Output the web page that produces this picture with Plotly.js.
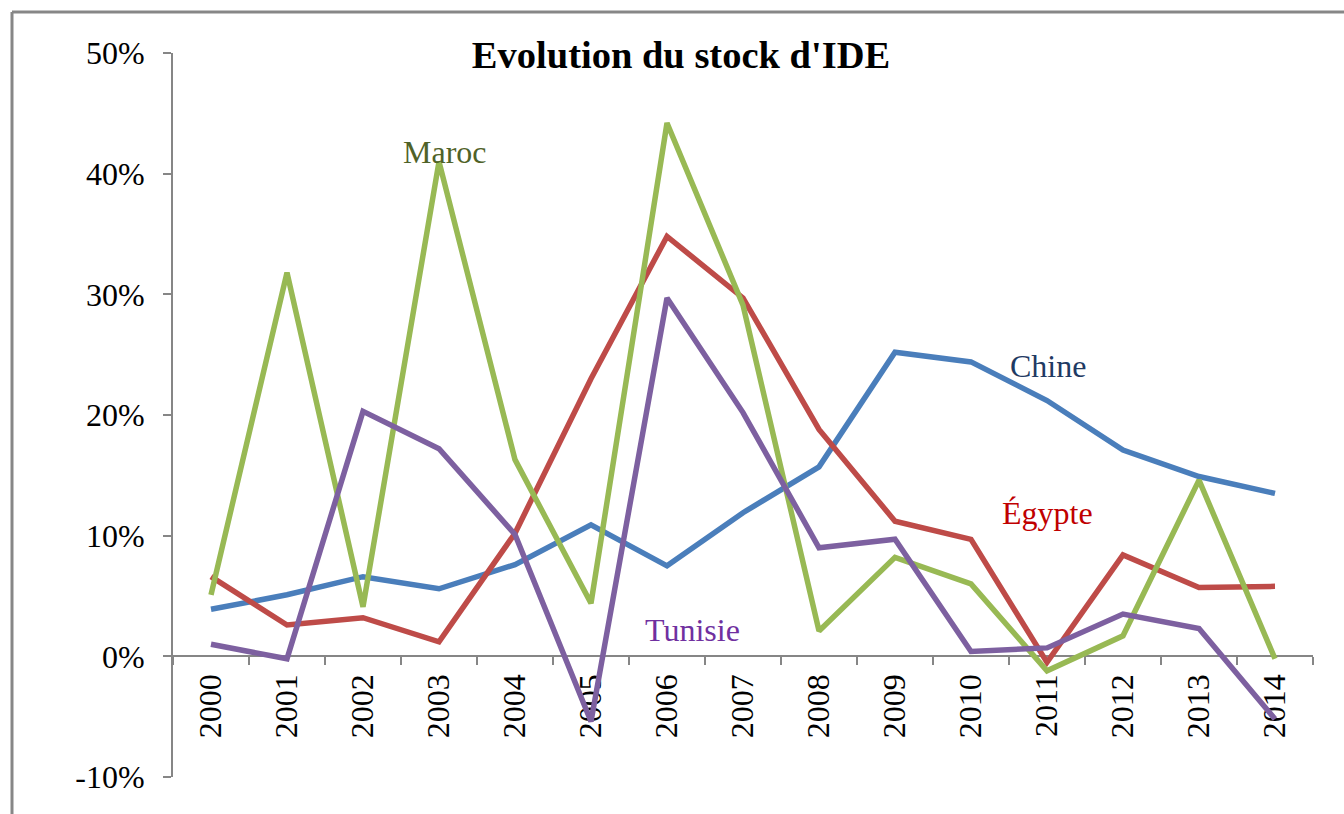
<!DOCTYPE html>
<html>
<head>
<meta charset="utf-8">
<script src="https://cdn.plot.ly/plotly-3.0.1.min.js"></script>
<style>
html,body{margin:0;padding:0;background:#fff;}
#chart{width:1344px;height:814px;}
</style>
</head>
<body>
<div id="chart"></div>
<script>
const years = ["2000","2001","2002","2003","2004","2005","2006","2007","2008","2009","2010","2011","2012","2013","2014"];
const chine   = [0.039,0.051,0.066,0.056,0.076,0.109,0.075,0.119,0.157,0.252,0.244,0.212,0.171,0.149,0.135];
const egypte  = [0.066,0.026,0.032,0.012,0.102,0.230,0.348,0.297,0.188,0.112,0.097,-0.005,0.084,0.057,0.058];
const maroc   = [0.051,0.318,0.041,0.410,0.163,0.044,0.442,0.291,0.021,0.082,0.060,-0.012,0.017,0.146,-0.002];
const tunisie = [0.010,-0.002,0.203,0.172,0.101,-0.054,0.297,0.202,0.090,0.097,0.004,0.007,0.035,0.023,-0.052];

const yTickVals = [-0.1,0,0.1,0.2,0.3,0.4,0.5];
const yTickText = ["-10%","0%","10%","20%","30%","40%","50%"];

const seriesNames = ["Chine","Égypte","Maroc","Tunisie"];
const seriesData = [chine, egypte, maroc, tunisie];
const lineColors = ["#4A7EBB","#BE4B48","#98B954","#7D60A0"];
const labelColors = ["#1F3A63","#C00000","#4F6228","#7030A0"];
const labelPos = [[11.01,0.241],[11.0,0.1185],[3.08,0.418],[6.33,0.022]];

const font = "Liberation Serif, Times New Roman, serif";

const traces = seriesNames.map((n,i)=>({
  type:'scatter', mode:'lines', name:n, x:years, y:seriesData[i],
  line:{color:lineColors[i], width:5.5}, hoverinfo:'x+y+name'
}));

const annotations = seriesNames.map((n,i)=>({
  text:n, xref:'x', yref:'y', x:labelPos[i][0], y:labelPos[i][1],
  showarrow:false, xanchor:'center', yanchor:'middle',
  font:{family:font, size:32, color:labelColors[i]}
}));

const layout = {
  width:1344, height:814,
  margin:{l:173, r:31, t:53, b:37},
  paper_bgcolor:'#fff', plot_bgcolor:'rgba(0,0,0,0)',
  showlegend:false,
  font:{family:font, size:30, color:'#000'},
  title:{text:"<b>Evolution du stock d'IDE</b>", xref:'container', yref:'container',
         x:681/1344, xanchor:'center', y:1-55/814, yanchor:'middle',
         font:{family:font, size:38.5, color:'#000'}},
  xaxis:{type:'category', range:[-0.5,14.5], anchor:'free', position:1/6,
         showline:true, linecolor:'#868686', linewidth:2,
         ticks:'outside', ticklen:8, tickwidth:2, tickcolor:'#868686', tickson:'boundaries',
         tickangle:-90, showgrid:false, zeroline:false, layer:'below traces', ticklabelstandoff:4,
         tickfont:{family:font, size:32, color:'#000'}},
  yaxis:{range:[-0.1,0.5], tickmode:'array', tickvals:yTickVals, ticktext:yTickText,
         showline:true, linecolor:'#868686', linewidth:2,
         ticks:'outside', ticklen:8, tickwidth:2, tickcolor:'#868686',
         showgrid:false, zeroline:false, layer:'below traces', ticklabelstandoff:12,
         tickfont:{family:font, size:32, color:'#000'}},
  annotations:annotations,
  shapes:[
    {type:'line', xref:'paper', yref:'paper', x0:(12-173)/1140, x1:(1344-173)/1140, y0:(777-12)/724, y1:(777-12)/724, line:{color:'#878787', width:3}},
    {type:'line', xref:'paper', yref:'paper', x0:(12-173)/1140, x1:(12-173)/1140, y0:(777-12)/724, y1:(777-814)/724, line:{color:'#878787', width:3}}
  ]
};

Plotly.newPlot('chart', traces, layout, {displayModeBar:false, staticPlot:true});
</script>
</body>
</html>
